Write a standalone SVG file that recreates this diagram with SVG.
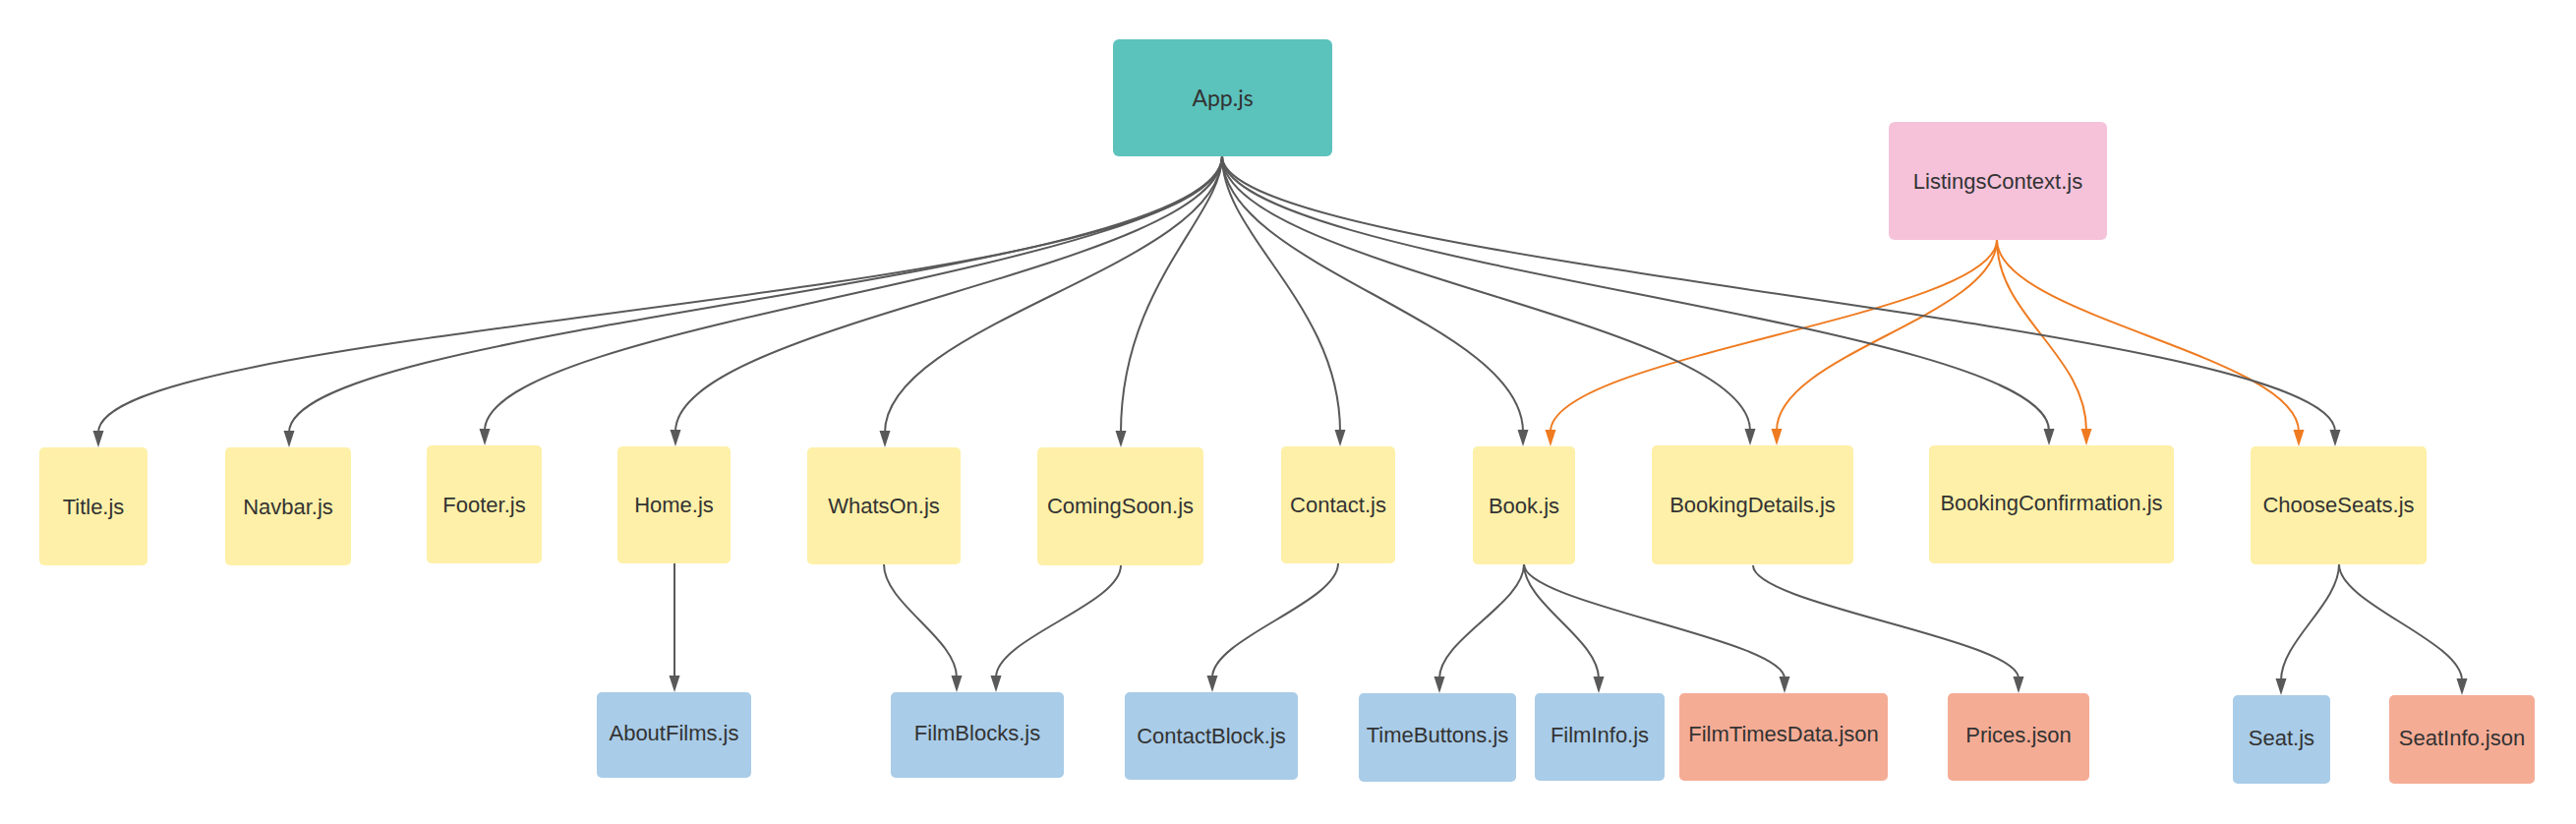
<svg xmlns="http://www.w3.org/2000/svg" width="2620" height="838" viewBox="0 0 2620 838">
  <style>
    .box { stroke: none; }
    .app { fill: #5bc2bc; }
    .ctx { fill: #f5c2da; }
    .comp { fill: #fef0a8; }
    .sub { fill: #a9cce8; }
    .data { fill: #f5ac95; }
    .lbl { font-family: "Liberation Sans", Arial, sans-serif; font-size: 22px; fill: #333333; text-anchor: middle; }
    .lbl-app { font-family: Lato, "Liberation Sans", sans-serif; font-size: 23px; fill: #333333; text-anchor: middle; }
    .edge { fill: none; stroke: #595959; stroke-width: 2; marker-end: url(#ah); }
    .edge-ctx { fill: none; stroke: #ef7b21; stroke-width: 2; marker-end: url(#ah-o); }
  </style>
  <defs>
    <marker id="ah" markerUnits="userSpaceOnUse" markerWidth="17" markerHeight="12" viewBox="0 0 17 12" refX="2" refY="6" orient="auto" overflow="visible">
      <path d="M0,0.5 L17,6 L0,11.5 z" fill="#595959"/>
    </marker>
    <marker id="ah-o" markerUnits="userSpaceOnUse" markerWidth="17" markerHeight="12" viewBox="0 0 17 12" refX="2" refY="6" orient="auto" overflow="visible">
      <path d="M0,0.5 L17,6 L0,11.5 z" fill="#ef7b21"/>
    </marker>
  </defs>
  <rect x="0" y="0" width="2620" height="838" fill="#ffffff"/>

  <g id="connectors">
    <g id="context-edges">
      <path class="edge-ctx" d="M2031,244 C2031,322 1577,361 1577,439"/>
      <path class="edge-ctx" d="M2031,244 C2031,322 1807,360 1807,438"/>
      <path class="edge-ctx" d="M2031,244 C2031,322 2122,360 2122,438"/>
      <path class="edge-ctx" d="M2031,244 C2031,322 2338,361 2338,439"/>
    </g>
    <g id="app-edges">
      <path class="edge" d="M1243,159 C1243,304 100,328 100,440"/>
      <path class="edge" d="M1243,159 C1243,285 294,328 294,440"/>
      <path class="edge" d="M1243,159 C1243,271 493,326 493,438"/>
      <path class="edge" d="M1243,159 C1243,271 687,327 687,439"/>
      <path class="edge" d="M1243,159 C1243,271 900,328 900,440"/>
      <path class="edge" d="M1243,159 C1243,219 1140,290 1140,440"/>
      <path class="edge" d="M1243,159 C1243,240 1363,310 1363,439"/>
      <path class="edge" d="M1243,159 C1243,271 1549,327 1549,439"/>
      <path class="edge" d="M1243,159 C1243,271 1780,326 1780,438"/>
      <path class="edge" d="M1243,159 C1243,271 2084,326 2084,438"/>
      <path class="edge" d="M1243,159 C1243,271 2375,327 2375,439"/>
    </g>
    <g id="child-edges">
      <path class="edge" d="M686,573 L686,689"/>
      <path class="edge" d="M899,574 C899,614 973,649 973,689"/>
      <path class="edge" d="M1140,575 C1140,615 1013,649 1013,689"/>
      <path class="edge" d="M1361,573 C1361,613 1233,649 1233,689"/>
      <path class="edge" d="M1550,574 C1550,614 1464,650 1464,690"/>
      <path class="edge" d="M1550,574 C1550,614 1626,650 1626,690"/>
      <path class="edge" d="M1550,574 C1550,614 1815,650 1815,690"/>
      <path class="edge" d="M1783,575 C1783,615 2053,650 2053,690"/>
      <path class="edge" d="M2379,574 C2379,614 2320,652 2320,692"/>
      <path class="edge" d="M2379,574 C2379,614 2504,652 2504,692"/>
    </g>
  </g>

  <g id="node-app"><rect class="box app" x="1132" y="40" width="223" height="119" rx="6"/><text class="lbl-app" x="1243.5" y="107.5">App.js</text></g>
  <g id="node-listingscontext"><rect class="box ctx" x="1921" y="124" width="222" height="120" rx="6"/><text class="lbl" x="2032" y="192">ListingsContext.js</text></g>

  <g id="node-title"><rect class="box comp" x="40" y="455" width="110" height="120" rx="5"/><text class="lbl" x="95" y="523">Title.js</text></g>
  <g id="node-navbar"><rect class="box comp" x="229" y="455" width="128" height="120" rx="5"/><text class="lbl" x="293" y="523">Navbar.js</text></g>
  <g id="node-footer"><rect class="box comp" x="434" y="453" width="117" height="120" rx="5"/><text class="lbl" x="492.5" y="521">Footer.js</text></g>
  <g id="node-home"><rect class="box comp" x="628" y="454" width="115" height="119" rx="5"/><text class="lbl" x="685.5" y="521">Home.js</text></g>
  <g id="node-whatson"><rect class="box comp" x="821" y="455" width="156" height="119" rx="5"/><text class="lbl" x="899" y="522">WhatsOn.js</text></g>
  <g id="node-comingsoon"><rect class="box comp" x="1055" y="455" width="169" height="120" rx="5"/><text class="lbl" x="1139.5" y="522">ComingSoon.js</text></g>
  <g id="node-contact"><rect class="box comp" x="1303" y="454" width="116" height="119" rx="5"/><text class="lbl" x="1361" y="521">Contact.js</text></g>
  <g id="node-book"><rect class="box comp" x="1498" y="454" width="104" height="120" rx="5"/><text class="lbl" x="1550" y="522">Book.js</text></g>
  <g id="node-bookingdetails"><rect class="box comp" x="1680" y="453" width="205" height="121" rx="5"/><text class="lbl" x="1782.5" y="521">BookingDetails.js</text></g>
  <g id="node-bookingconfirmation"><rect class="box comp" x="1962" y="453" width="249" height="120" rx="5"/><text class="lbl" x="2086.5" y="519">BookingConfirmation.js</text></g>
  <g id="node-chooseseats"><rect class="box comp" x="2289" y="454" width="179" height="120" rx="5"/><text class="lbl" x="2378.5" y="521">ChooseSeats.js</text></g>

  <g id="node-aboutfilms"><rect class="box sub" x="607" y="704" width="157" height="87" rx="5"/><text class="lbl" x="685.5" y="753">AboutFilms.js</text></g>
  <g id="node-filmblocks"><rect class="box sub" x="906" y="704" width="176" height="87" rx="5"/><text class="lbl" x="994" y="753">FilmBlocks.js</text></g>
  <g id="node-contactblock"><rect class="box sub" x="1144" y="704" width="176" height="89" rx="5"/><text class="lbl" x="1232" y="756">ContactBlock.js</text></g>
  <g id="node-timebuttons"><rect class="box sub" x="1382" y="705" width="160" height="90" rx="5"/><text class="lbl" x="1462" y="755">TimeButtons.js</text></g>
  <g id="node-filminfo"><rect class="box sub" x="1561" y="705" width="132" height="89" rx="5"/><text class="lbl" x="1627" y="755">FilmInfo.js</text></g>
  <g id="node-filmtimesdata"><rect class="box data" x="1708" y="705" width="212" height="89" rx="5"/><text class="lbl" x="1814" y="754">FilmTimesData.json</text></g>
  <g id="node-prices"><rect class="box data" x="1981" y="705" width="144" height="89" rx="5"/><text class="lbl" x="2053" y="755">Prices.json</text></g>
  <g id="node-seat"><rect class="box sub" x="2271" y="707" width="99" height="90" rx="5"/><text class="lbl" x="2320.5" y="758">Seat.js</text></g>
  <g id="node-seatinfo"><rect class="box data" x="2430" y="707" width="148" height="90" rx="5"/><text class="lbl" x="2504" y="758">SeatInfo.json</text></g>
</svg>
